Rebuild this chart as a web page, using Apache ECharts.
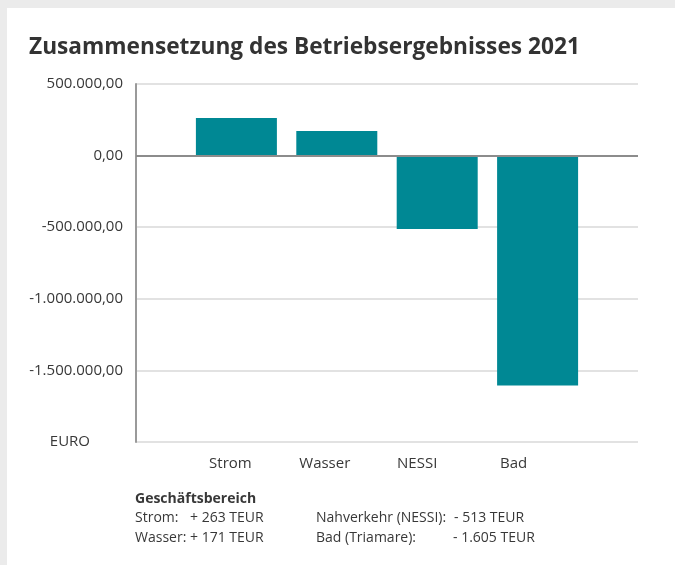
<!DOCTYPE html>
<html>
<head>
<meta charset="utf-8">
<script src="https://cdn.jsdelivr.net/npm/echarts@6/dist/echarts.min.js"></script>
<style>
  html, body { margin: 0; padding: 0; background: #ebebeb; }
  #wrap { position: relative; width: 675px; height: 565px; overflow: hidden; }
  #card { position: absolute; left: 7px; top: 8px; right: 0; bottom: 0; background: #ffffff; }
  #chart { position: absolute; left: 0; top: 0; width: 675px; height: 565px; }
</style>
</head>
<body>
<div id="wrap">
  <div id="card"></div>
  <div id="chart"></div>
</div>
<script>
const TITLE = 'Zusammensetzung des Betriebsergebnisses 2021';
const categories = ['Strom', 'Wasser', 'NESSI', 'Bad'];
const values = [263000, 171000, -513000, -1605000];
const yTicks = [-2000000, -1500000, -1000000, -500000, 0, 500000];
const yUnit = 'EURO';
const noteHeading = 'Geschäftsbereich';
const noteLeft = [['Strom:', '+ 263 TEUR'], ['Wasser:', '+ 171 TEUR']];
const noteRight = [['Nahverkehr (NESSI):', '- 513 TEUR'], ['Bad (Triamare):', '- 1.605 TEUR']];

const FG = '#383838';
const BAR = '#008894';
const FONT = '"Open Sans", sans-serif';

// German number format: 1.500.000,00
const fmtDe = (v) => {
  const neg = v < 0;
  const s = Math.abs(Math.round(v)).toString().replace(/\B(?=(\d{3})+(?!\d))/g, '.');
  return (neg ? '-' : '') + s + ',00';
};

// labels in the original sit a bit left of the bar centres
const labelShift = { Strom: 6, Wasser: 12, NESSI: 20, Bad: 24 };
const rich = {};
categories.forEach((c, i) => {
  rich['c' + i] = { fontSize: 15, fontFamily: FONT, color: FG, padding: [0, 2 * (labelShift[c] || 0), 0, 0] };
});
rich.e = { fontSize: 15, fontFamily: FONT, color: FG, padding: [0, 33, 0, 0] };

const axisCats = [''].concat(categories, ['']);
const seriesData = [null].concat(values, [null]);

const chart = echarts.init(document.getElementById('chart'));

// note block under the chart
const noteFont = '14px ' + FONT;
const valX = [[190, 190], [454, 453]];
const noteItems = [];
noteItems.push({ type: 'text', left: 135, top: 492, style: { text: noteHeading, font: 'bold 14px ' + FONT, fill: FG } });
noteLeft.forEach((r, i) => {
  noteItems.push({ type: 'text', left: 135, top: 511 + i * 20, style: { text: r[0], font: noteFont, fill: FG } });
  noteItems.push({ type: 'text', left: valX[0][i], top: 511 + i * 20, style: { text: r[1], font: noteFont, fill: FG } });
});
noteRight.forEach((r, i) => {
  noteItems.push({ type: 'text', left: 316, top: 511 + i * 20, style: { text: r[0], font: noteFont, fill: FG } });
  noteItems.push({ type: 'text', left: valX[1][i], top: 511 + i * 20, style: { text: r[1], font: noteFont, fill: FG } });
});

chart.setOption({
  animation: false,
  title: {
    text: TITLE,
    left: 24,
    top: 31,
    textStyle: { fontSize: 22.7, fontWeight: 'bold', fontFamily: FONT, color: '#333333' }
  },
  grid: { left: 136, right: 37, top: 84, bottom: 123 },
  xAxis: {
    type: 'category',
    data: axisCats,
    boundaryGap: false,
    axisLine: { show: false },
    axisTick: { show: false },
    splitLine: { show: false },
    axisLabel: {
      interval: 0,
      margin: 14,
      formatter: (v) => {
        const i = categories.indexOf(v);
        return i < 0 ? '' : '{c' + i + '|' + v + '}';
      },
      rich: rich
    }
  },
  yAxis: {
    type: 'value',
    min: yTicks[0],
    max: yTicks[yTicks.length - 1],
    interval: 500000,
    axisLine: { show: true, lineStyle: { color: '#9a9a9a', width: 2 } },
    axisTick: { show: false },
    splitLine: { lineStyle: { color: '#e2e2e2', width: 2 } },
    axisLabel: {
      margin: 13,
      fontSize: 15,
      fontFamily: FONT,
      color: FG,
      formatter: (v) => v === yTicks[0] ? '{e|' + yUnit + '}' : fmtDe(v),
      rich: rich
    }
  },
  series: [{
    type: 'bar',
    data: seriesData,
    barWidth: 81,
    itemStyle: { color: BAR },
    markLine: {
      silent: true,
      symbol: 'none',
      label: { show: false },
      lineStyle: { color: '#8c8c8c', width: 2, type: 'solid' },
      data: [{ yAxis: 0 }]
    }
  }],
  graphic: noteItems
});
</script>
</body>
</html>
